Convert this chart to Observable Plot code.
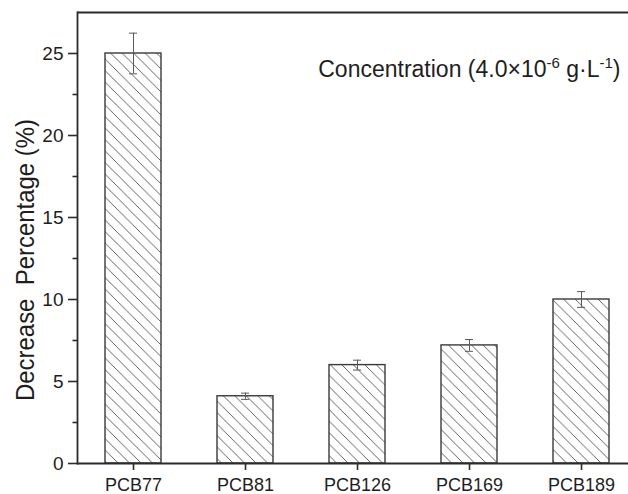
<!DOCTYPE html>
<html>
<head>
<meta charset="utf-8">
<script src="https://cdn.jsdelivr.net/npm/d3@7"></script>
<script src="https://cdn.jsdelivr.net/npm/@observablehq/plot@0.6"></script>
<style>
  html, body { margin: 0; padding: 0; background: #fff; }
  #chart svg { display: block; }
</style>
</head>
<body>
<div id="chart"></div>
<script>
const categories = ["PCB77", "PCB81", "PCB126", "PCB169", "PCB189"];
const values = [25.0, 4.1, 6.0, 7.2, 10.0];
const errors = [1.24, 0.19, 0.3, 0.36, 0.48];
const yTicks = [0, 5, 10, 15, 20, 25];
const yMinorTicks = [2.5, 7.5, 12.5, 17.5, 22.5];
const yLabel = "Decrease  Percentage (%)";
const annotation = "Concentration (4.0×10-6 g·L-1)";

const data = categories.map((c, i) => ({cat: c, value: values[i], err: errors[i]}));

const FONT = "'Liberation Sans', Arial, Helvetica, sans-serif";
const AX = "#2b2b2b";

const chart = Plot.plot({
  width: 628,
  height: 494,
  marginLeft: 77,
  marginRight: 0,
  marginTop: 12,
  marginBottom: 31,
  style: {fontFamily: FONT, color: "#1e1e1e", background: "#fff", overflow: "visible"},
  x: {domain: categories, range: [77, 637], paddingInner: 0.5, paddingOuter: 0.25, axis: null},
  y: {domain: [0, 27.5], axis: null},
  marks: [
    Plot.barY(data, {x: "cat", y: "value", fill: "url(#hatch)", stroke: "#3a3a3a", strokeWidth: 1.4}),
    Plot.ruleX(data, {x: "cat", y1: d => d.value - d.err, y2: d => d.value + d.err, stroke: "#5a5a5a", strokeWidth: 1}),
    Plot.tickY(data, {x: "cat", y: d => d.value - d.err, stroke: "#5a5a5a", strokeWidth: 1, insetLeft: 24, insetRight: 24}),
    Plot.tickY(data, {x: "cat", y: d => d.value + d.err, stroke: "#5a5a5a", strokeWidth: 1, insetLeft: 24, insetRight: 24}),
    Plot.axisY(yTicks, {tickSize: 9, tickPadding: 5, fontSize: 19, stroke: AX, strokeWidth: 1.6, label: null, anchor: "left"}),
    Plot.axisY(yMinorTicks, {tickSize: 4.5, tickFormat: () => "", stroke: AX, strokeWidth: 1.6, label: null, anchor: "left"}),
    Plot.axisX({tickSize: 7, tickPadding: 8, fontSize: 18, stroke: AX, strokeWidth: 1.6, label: null, anchor: "bottom"}),
    Plot.frame({anchor: "left", stroke: AX, strokeWidth: 1.8}),
    Plot.ruleY([0, 27.5], {stroke: AX, strokeWidth: 1.8}),
    Plot.text([yLabel], {frameAnchor: "left", textAnchor: "middle", rotate: -90, dx: -52, dy: 22, fontSize: 26, fill: "#1e1e1e"}),
    Plot.text([annotation], {frameAnchor: "top-right", textAnchor: "end", lineAnchor: "top", dx: -8, dy: 48, fontSize: 23, fill: "#1e1e1e"})
  ]
});

// hatch pattern definition
const svg = d3.select(chart);
const defs = svg.insert("defs", ":first-child");
const pat = defs.append("pattern")
  .attr("id", "hatch")
  .attr("patternUnits", "userSpaceOnUse")
  .attr("width", 11.5)
  .attr("height", 11.5);
pat.append("rect").attr("width", 11.5).attr("height", 11.5).attr("fill", "#fff");
pat.append("path")
  .attr("d", "M0,0L11.5,11.5M-3,8.5L3,14.5M8.5,-3L14.5,3")
  .attr("stroke", "#5a5a5a")
  .attr("stroke-width", 0.95)
  .attr("fill", "none");

// stretch the rotated y label to the reference length
svg.selectAll("text").filter(function() { return this.textContent === yLabel; })
  .attr("textLength", 282).attr("lengthAdjust", "spacingAndGlyphs");

// superscripts in the annotation
svg.selectAll("text").filter(function() { return this.textContent === annotation; }).each(function() {
  const t = d3.select(this);
  t.text(null);
  t.append("tspan").text("Concentration (4.0×10");
  t.append("tspan").attr("dy", -9).attr("font-size", 15).text("-6");
  t.append("tspan").attr("dy", 9).text(" g·L");
  t.append("tspan").attr("dy", -9).attr("font-size", 15).text("-1");
  t.append("tspan").attr("dy", 9).text(")");
});

document.getElementById("chart").appendChild(chart);
</script>
</body>
</html>
